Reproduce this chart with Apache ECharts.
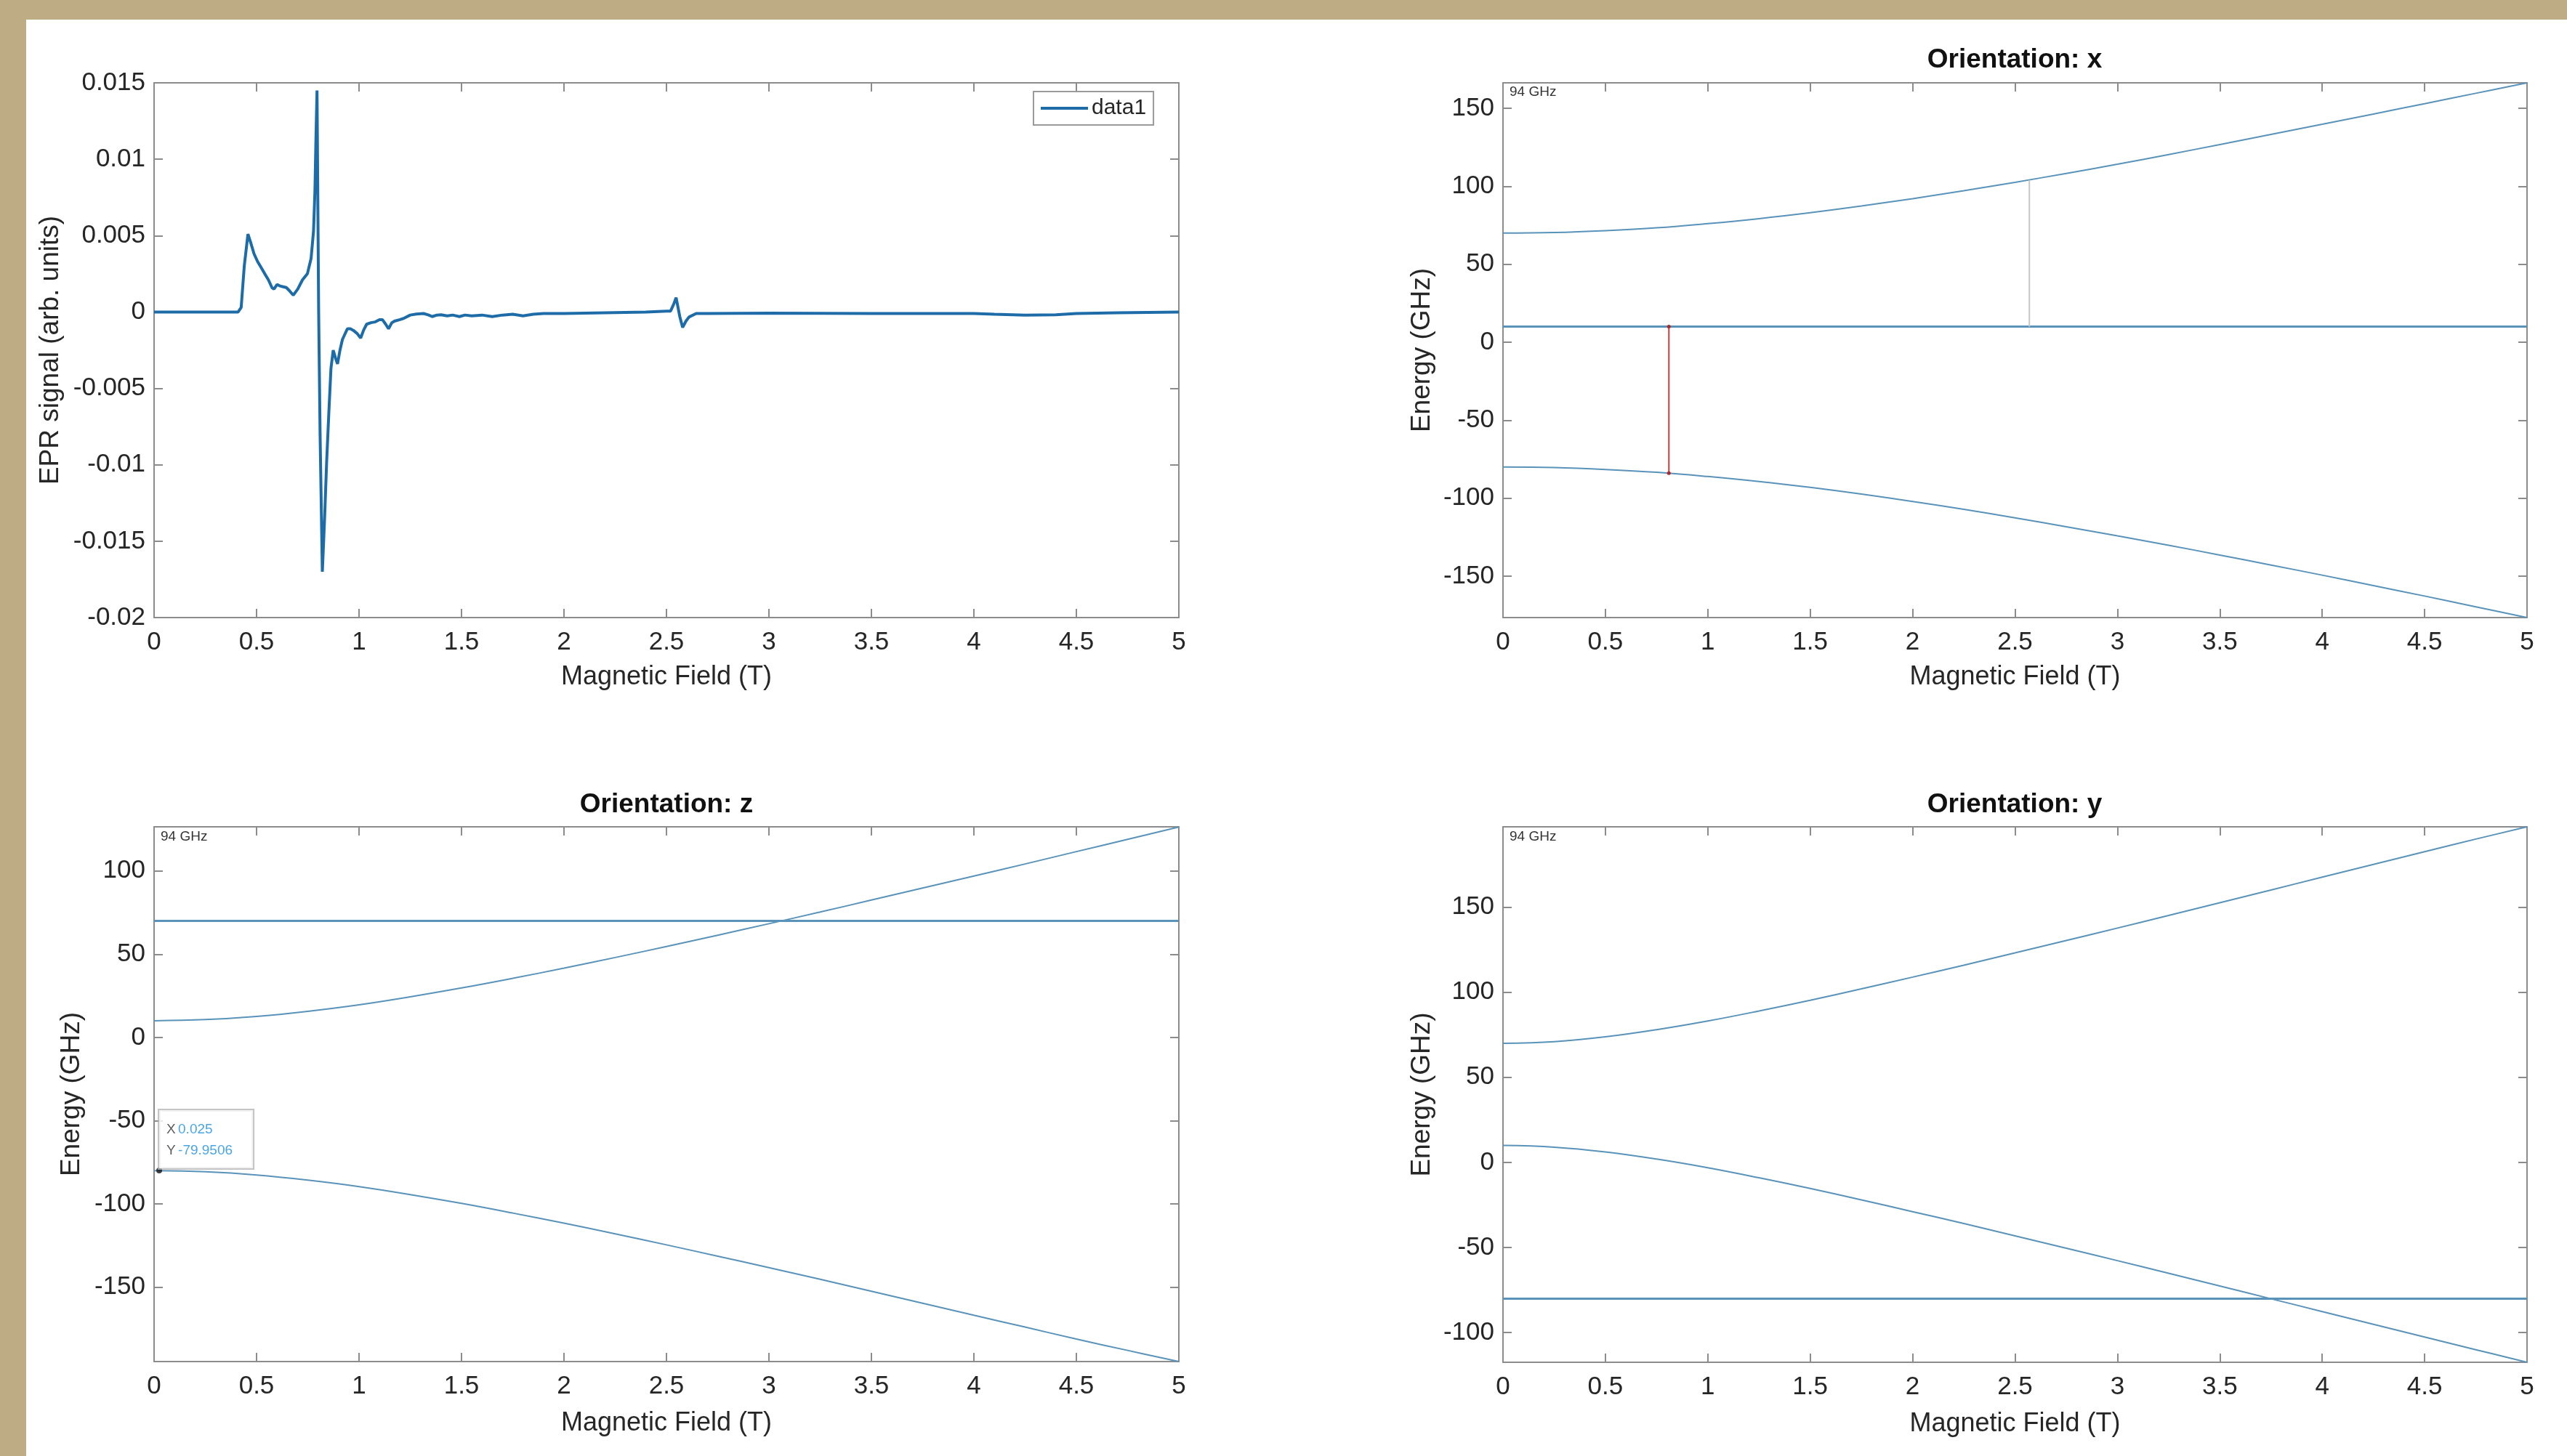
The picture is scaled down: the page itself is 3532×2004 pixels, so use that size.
<!DOCTYPE html>
<html><head><meta charset="utf-8">
<script src="https://cdn.jsdelivr.net/npm/echarts@6/dist/echarts.min.js"></script>
<style>
html,body{margin:0;padding:0;background:#bead84;width:3532px;height:2004px;overflow:hidden;}
#chart{position:absolute;left:36px;top:27px;width:3496px;height:1977px;background:#fff;}
</style></head><body><div id="chart"></div>
<script>
// ---------- DATA ----------
const eprField = [0, 0.2, 0.41, 0.425, 0.44, 0.458, 0.47, 0.488, 0.505, 0.523, 0.54, 0.558, 0.575, 0.585, 0.6, 0.615, 0.63, 0.645, 0.66, 0.679, 0.69, 0.701, 0.724, 0.748, 0.766, 0.778, 0.785, 0.789, 0.795, 0.803, 0.81, 0.821, 0.832, 0.842, 0.853, 0.863, 0.874, 0.885, 0.895, 0.907, 0.919, 0.943, 0.958, 0.972, 0.99, 1.008, 1.022, 1.037, 1.058, 1.079, 1.1, 1.114, 1.13, 1.144, 1.16, 1.173, 1.2, 1.221, 1.25, 1.28, 1.315, 1.34, 1.357, 1.38, 1.4, 1.43, 1.457, 1.49, 1.517, 1.55, 1.6, 1.65, 1.7, 1.75, 1.8, 1.85, 1.9, 2.0, 2.2, 2.4, 2.5, 2.52, 2.535, 2.547, 2.555, 2.565, 2.579, 2.595, 2.61, 2.645, 2.7, 3.0, 3.5, 4.0, 4.1, 4.25, 4.4, 4.5, 4.7, 5.0];
const eprSignal = [0, 0, 0, 0.0003, 0.003, 0.0051, 0.0046, 0.0038, 0.0033, 0.0029, 0.0025, 0.0021, 0.0016, 0.0015, 0.0018, 0.0017, 0.00165, 0.0016, 0.0014, 0.0011, 0.0013, 0.0015, 0.0021, 0.0025, 0.0035, 0.0053, 0.008, 0.0108, 0.0145, 0.0, -0.008, -0.017, -0.0135, -0.0098, -0.0065, -0.0037, -0.0025, -0.003, -0.0034, -0.0025, -0.0018, -0.0011, -0.0011, -0.0012, -0.0014, -0.0017, -0.0012, -0.0008, -0.0007, -0.00065, -0.0005, -0.0005, -0.0008, -0.0011, -0.0007, -0.0006, -0.0005, -0.0004, -0.0002, -0.00013, -0.0001, -0.0002, -0.0003, -0.0002, -0.00018, -0.00025, -0.0002, -0.0003, -0.0002, -0.00025, -0.0002, -0.0003, -0.0002, -0.00015, -0.00025, -0.00015, -0.0001, -0.0001, -0.00005, 0.0, 0.00006, 0.00006, 0.0005, 0.00094, 0.0004, -0.0003, -0.00101, -0.0006, -0.00033, -0.0001, -0.0001, -0.00008, -0.0001, -0.0001, -0.00015, -0.0002, -0.00018, -0.0001, -0.00005, 0.0];

const field = [0, 0.25, 0.5, 0.75, 1, 1.25, 1.5, 1.75, 2, 2.25, 2.5, 2.75, 3, 3.25, 3.5, 3.75, 4, 4.25, 4.5, 4.75, 5];

// Orientation x
const xUpper = [70.0, 70.4, 71.6, 73.4, 76.1, 79.3, 83.1, 87.4, 92.1, 97.2, 102.6, 108.3, 114.2, 120.4, 126.8, 133.3, 139.8, 146.4, 153.0, 159.7, 166.4];
const xMid   = [10, 10, 10, 10, 10, 10, 10, 10, 10, 10, 10, 10, 10, 10, 10, 10, 10, 10, 10, 10, 10];
const xLower = [-80.0, -80.4, -81.6, -83.4, -86.1, -89.3, -93.1, -97.4, -102.1, -107.2, -112.6, -118.3, -124.2, -130.2, -136.5, -142.9, -149.4, -156.1, -162.8, -169.7, -176.6];
// Orientation z
const zUpper = [10.0, 10.7, 12.6, 15.7, 19.6, 24.4, 29.7, 35.5, 41.6, 48.0, 54.6, 61.4, 68.3, 75.3, 82.5, 89.7, 96.9, 104.2, 111.6, 119.0, 126.4];
const zMid   = [70, 70, 70, 70, 70, 70, 70, 70, 70, 70, 70, 70, 70, 70, 70, 70, 70, 70, 70, 70, 70];
const zLower = [-80.0, -80.7, -82.6, -85.7, -89.6, -94.4, -99.7, -105.5, -111.6, -118.0, -124.6, -131.4, -138.3, -145.3, -152.5, -159.7, -166.9, -174.0, -181.2, -188.0, -194.7];
// Orientation y
const yUpper = [70.0, 71.0, 73.8, 78.0, 83.1, 89.0, 95.3, 102.0, 108.9, 115.9, 123.1, 130.4, 137.7, 145.1, 152.6, 160.1, 167.6, 175.1, 182.6, 190.0, 197.2];
const yMid   = [-80, -80, -80, -80, -80, -80, -80, -80, -80, -80, -80, -80, -80, -80, -80, -80, -80, -80, -80, -80, -80];
const yLower = [10.0, 9.0, 6.2, 2.0, -3.1, -9.0, -15.3, -22.0, -28.9, -35.9, -43.1, -50.4, -57.7, -65.1, -72.6, -80.1, -87.6, -95.1, -102.6, -110.0, -117.4];

// transitions (orientation x)
const redField = [0.81, 0.81];
const redEnergy = [10, -84];
const greyField = [2.57, 2.57];
const greyEnergy = [10, 104];

// data tip (orientation z)
const tipField = [0.025];
const tipEnergy = [-79.9506];

// axis ranges
const eprRange = [-0.02, 0.015];
const xRange = [-176.6, 166.4];
const zRange = [-194.7, 126.5];
const yRange = [-117.4, 197.2];

const titles = ['Orientation: x', 'Orientation: z', 'Orientation: y'];
const freqLabel = '94 GHz';

// ---------- CHART ----------
const FONT = '"Liberation Sans", Arial, Helvetica, sans-serif';
const TXT = '#262626';
const AX = '#8c8c8c';
const EPR_COLOR = '#1d6ca8';
const LVL_COLOR = '#5a93ba';
const zip = (a, b) => a.map((v, i) => [v, b[i]]);

const grids = [
  {left: 176, top: 87, width: 1410, height: 736},
  {left: 2032, top: 87, width: 1409, height: 736},
  {left: 176, top: 1111, width: 1410, height: 736},
  {left: 2032, top: 1111, width: 1409, height: 737}
].map(g => Object.assign({outerBoundsMode: 'none', containLabel: false, show: false}, g));

function mkX(gi, pos, main, nameGap) {
  return {
    type: 'value', gridIndex: gi, position: pos, min: 0, max: 5, interval: 0.5,
    name: main ? 'Magnetic Field (T)' : '', nameLocation: 'middle', nameGap: nameGap || 0,
    nameTextStyle: {fontSize: 36, color: TXT, fontFamily: FONT},
    axisLine: {show: true, onZero: false, lineStyle: {color: AX, width: 2}},
    axisTick: {show: true, inside: true, length: 12, lineStyle: {color: AX, width: 2}},
    axisLabel: {show: main, margin: 17, fontSize: 35, color: TXT, fontFamily: FONT},
    splitLine: {show: false}
  };
}
function mkY(gi, pos, main, range, interval, name, nameGap, nameSize) {
  const ax = {
    type: 'value', gridIndex: gi, position: pos, min: range[0], max: range[1],
    name: main ? name : '', nameLocation: 'middle', nameGap: nameGap || 0,
    nameTextStyle: {fontSize: nameSize || 36, color: TXT, fontFamily: FONT},
    axisLine: {show: true, onZero: false, lineStyle: {color: AX, width: 2}},
    axisTick: {show: true, inside: true, length: 12, lineStyle: {color: AX, width: 2}},
    axisLabel: {show: main, margin: 12, fontSize: 35, color: TXT, fontFamily: FONT},
    splitLine: {show: false}
  };
  if (interval) { ax.interval = interval; }
  else { ax.splitNumber = 5; ax.axisLabel.showMinLabel = false; ax.axisLabel.showMaxLabel = false; }
  return ax;
}

const xAxes = [
  mkX(0, 'bottom', true, 64), mkX(0, 'top', false),
  mkX(1, 'bottom', true, 64), mkX(1, 'top', false),
  mkX(2, 'bottom', true, 67), mkX(2, 'top', false),
  mkX(3, 'bottom', true, 67), mkX(3, 'top', false)
];
const yAxes = [
  mkY(0, 'left', true, eprRange, 0.005, 'EPR signal (arb. units)', 124, 37), mkY(0, 'right', false, eprRange, 0.005),
  mkY(1, 'left', true, xRange, null, 'Energy (GHz)', 93, 37), mkY(1, 'right', false, xRange, null),
  mkY(2, 'left', true, zRange, null, 'Energy (GHz)', 95, 37), mkY(2, 'right', false, zRange, null),
  mkY(3, 'left', true, yRange, null, 'Energy (GHz)', 93, 37), mkY(3, 'right', false, yRange, null)
];

function lvl(gi, xs, ys, width) {
  return {type: 'line', xAxisIndex: 2 * gi, yAxisIndex: 2 * gi, data: zip(xs, ys),
    symbol: 'none', showSymbol: false, smooth: 0.4, silent: true,
    lineStyle: {color: LVL_COLOR, width: width}, itemStyle: {color: LVL_COLOR}, z: 2};
}

const series = [
  {name: 'data1', type: 'line', xAxisIndex: 0, yAxisIndex: 0, data: zip(eprField, eprSignal),
    symbol: 'none', showSymbol: false, silent: true,
    lineStyle: {color: EPR_COLOR, width: 4}, itemStyle: {color: EPR_COLOR}, z: 3},
  lvl(1, field, xUpper, 2), lvl(1, field, xMid, 3), lvl(1, field, xLower, 2),
  {type: 'line', xAxisIndex: 2, yAxisIndex: 2, data: zip(greyField, greyEnergy), symbol: 'none', silent: true,
    lineStyle: {color: '#c6c6c6', width: 2}, z: 3},
  {type: 'line', xAxisIndex: 2, yAxisIndex: 2, data: zip(redField, redEnergy), symbol: 'circle', symbolSize: 5,
    showSymbol: true, silent: true, lineStyle: {color: '#cf3a3a', width: 2}, itemStyle: {color: '#a82a2a'}, z: 4},
  lvl(2, field, zUpper, 2), lvl(2, field, zMid, 3), lvl(2, field, zLower, 2),
  lvl(3, field, yUpper, 2), lvl(3, field, yMid, 3), lvl(3, field, yLower, 2),
  {type: 'scatter', xAxisIndex: 4, yAxisIndex: 4, data: zip(tipField, tipEnergy), symbol: 'circle', symbolSize: 8,
    silent: true, itemStyle: {color: '#111'}, z: 6,
    label: {show: true, position: [4, 1], align: 'left', verticalAlign: 'bottom',
      formatter: p => '{k|X} {v|' + p.value[0] + '}\n{k|Y} {v|' + p.value[1] + '}',
      backgroundColor: '#fff', borderColor: '#b5b5b5', borderWidth: 2, padding: [12, 28, 10, 10],
      lineHeight: 29, fontFamily: FONT,
      rich: {k: {color: '#333', fontSize: 19, lineHeight: 29, fontFamily: FONT},
             v: {color: '#1a8ee0', fontSize: 19, lineHeight: 29, fontFamily: FONT}}}}
];

const titleStyle = {fontSize: 37, fontWeight: 'bold', color: '#111', fontFamily: FONT};
const freqStyle = {fontSize: 19, fontWeight: 'normal', color: '#333', fontFamily: FONT};

const option = {
  animation: false,
  backgroundColor: '#fff',
  textStyle: {fontFamily: FONT},
  title: [
    {text: titles[0], left: 2731, top: 32, textAlign: 'center', textStyle: titleStyle},
    {text: titles[1], left: 876, top: 1057, textAlign: 'center', textStyle: titleStyle},
    {text: titles[2], left: 2731, top: 1057, textAlign: 'center', textStyle: titleStyle},
    {text: freqLabel, left: 2036, top: 85, textStyle: freqStyle},
    {text: freqLabel, left: 180, top: 1110, textStyle: freqStyle},
    {text: freqLabel, left: 2036, top: 1110, textStyle: freqStyle}
  ],
  legend: {data: ['data1'], left: 1386, top: 99, orient: 'horizontal', padding: [8, 10],
    icon: 'rect', itemWidth: 65, itemHeight: 4, backgroundColor: '#fff', borderColor: '#9a9a9a', borderWidth: 2,
    borderRadius: 0, selectedMode: false,
    textStyle: {fontSize: 30, color: TXT, fontFamily: FONT}},
  grid: grids,
  xAxis: xAxes,
  yAxis: yAxes,
  series: series
};

const chart = echarts.init(document.getElementById('chart'), null, {renderer: 'canvas'});
chart.setOption(option);
</script></body></html>
